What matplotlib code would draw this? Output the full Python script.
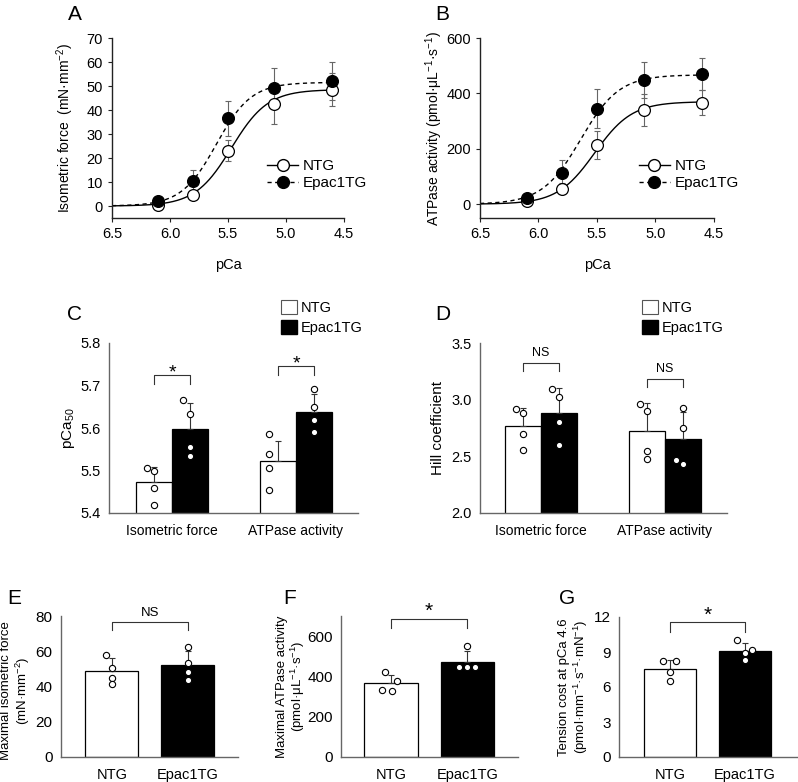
import numpy as np
import matplotlib
matplotlib.use("Agg")
import matplotlib.pyplot as plt
from matplotlib.lines import Line2D
from matplotlib.patches import Patch

plt.rcParams['font.family'] = ['Liberation Sans', 'DejaVu Sans']
plt.rcParams['mathtext.fontset'] = 'custom'
plt.rcParams['mathtext.rm'] = 'Liberation Sans'
plt.rcParams['mathtext.it'] = 'Liberation Sans:italic'
plt.rcParams['mathtext.default'] = 'regular'

# ---------------- data ----------------
pca = [6.1, 5.8, 5.5, 5.1, 4.6]
groups = ["NTG", "Epac1TG"]

# Panel A: isometric force
force_ntg = [0.5, 4.5, 23.0, 42.5, 48.5]
force_ntg_err = [0.8, 1.2, 4.3, 8.5, 7.0]
force_epac = [2.0, 10.5, 36.5, 49.0, 52.0]
force_epac_err = [1.0, 4.5, 7.2, 8.5, 8.0]
force_fit_ntg = (48.5, 5.47, 2.77)   # Fmax, pCa50, nH
force_fit_epac = (51.5, 5.60, 2.88)

# Panel B: ATPase activity
atp_ntg = [10, 55, 213, 340, 367]
atp_ntg_err = [6, 20, 50, 57, 45]
atp_epac = [22, 113, 345, 448, 470]
atp_epac_err = [8, 48, 70, 65, 57]
atp_fit_ntg = (370, 5.52, 2.72)
atp_fit_epac = (467, 5.64, 2.64)

# Panel C: pCa50
c_categories = ["Isometric force", "ATPase activity"]
pca50_ntg = [5.472, 5.522]
pca50_ntg_err = [0.036, 0.048]
pca50_epac = [5.597, 5.638]
pca50_epac_err = [0.063, 0.042]
pca50_pts_ntg = [[5.506, 5.498, 5.460, 5.420], [5.587, 5.538, 5.507, 5.453]]
pca50_pts_epac = [[5.665, 5.633, 5.555, 5.533], [5.692, 5.650, 5.620, 5.590]]
pca50_off_ntg = [[-7, 0, 0, 0], [-9, -9, -9, -9]]
pca50_off_epac = [[-7, 0, 0, 0], [0, 0, 0, 0]]
pca50_sig = ["*", "*"]

# Panel D: Hill coefficient
hill_ntg = [2.77, 2.72]
hill_ntg_err = [0.16, 0.25]
hill_epac = [2.88, 2.65]
hill_epac_err = [0.22, 0.24]
hill_pts_ntg = [[2.92, 2.88, 2.70, 2.56], [2.96, 2.90, 2.55, 2.48]]
hill_pts_epac = [[3.09, 3.02, 2.80, 2.60], [2.93, 2.75, 2.47, 2.43]]
hill_off_ntg = [[-7, 0, 0, 0], [-7, 0, 0, 0]]
hill_off_epac = [[-7, 0, 0, 0], [0, 0, -7, 0]]
hill_sig = ["NS", "NS"]

# Panel E: maximal isometric force
fmax_vals = [49.0, 52.0]
fmax_err = [7.0, 8.0]
fmax_pts = [[58.0, 50.5, 45.0, 41.5], [62.5, 53.5, 48.0, 43.5]]
fmax_off = [[-6, 0, 0, 0], [0, 0, 0, 0]]

# Panel F: maximal ATPase activity
amax_vals = [367, 470]
amax_err = [40, 55]
amax_pts = [[422, 378, 335, 328], [552, 448, 445, 445]]
amax_off = [[-6, 6, -9, 1], [0, -8, 0, 8]]

# Panel G: tension cost
tc_vals = [7.55, 9.1]
tc_err = [0.75, 0.7]
tc_pts = [[8.25, 8.25, 7.3, 6.5], [10.0, 9.2, 8.9, 8.3]]
tc_off = [[-7, 6, 0, 0], [-8, 7, 0, 0]]

# ---------------- figure ----------------
W, H = 798, 782
fig = plt.figure(figsize=(W / 100, H / 100), dpi=100)


def add_ax(l, r, t, b):
    return fig.add_axes([l / W, 1 - b / H, (r - l) / W, (b - t) / H])


def hill(x, p):
    fmax, p50, nh = p
    return fmax / (1 + 10 ** (nh * (np.asarray(x) - p50)))


def style_axes(ax, color='#333333'):
    for s in ['top', 'right']:
        ax.spines[s].set_visible(False)
    for s in ['left', 'bottom']:
        ax.spines[s].set_color(color)
        ax.spines[s].set_linewidth(1.0)
    ax.tick_params(colors='#222222', labelcolor='black', length=3, width=0.8,
                   labelsize=10.5)


def curve_panel(ax, yn, yne, ye, yee, fn, fe, ylim, yticks, ylabel, leg_xy):
    style_axes(ax, '#222222')
    xs = np.linspace(6.5, 4.6, 300)
    ax.plot(xs, hill(xs, fn), color='black', lw=1.0, ls='-', zorder=2)
    ax.plot(xs, hill(xs, fe), color='black', lw=1.0, ls=(0, (3, 2.5)), zorder=2)
    ax.errorbar(pca, yn, yerr=yne, fmt='none', ecolor='#666666', elinewidth=0.8,
                capsize=2.5, capthick=0.8, zorder=3)
    ax.errorbar(pca, ye, yerr=yee, fmt='none', ecolor='#666666', elinewidth=0.8,
                capsize=2.5, capthick=0.8, zorder=3)
    ax.plot(pca, yn, 'o', mfc='white', mec='black', mew=0.9, ms=8.5, ls='none', zorder=4)
    ax.plot(pca, ye, 'o', mfc='black', mec='black', mew=0.9, ms=8.5, ls='none', zorder=4)
    ax.set_xlim(6.5, 4.5)
    ax.set_xticks([6.5, 6.0, 5.5, 5.0, 4.5])
    ax.set_xticklabels(['6.5', '6.0', '5.5', '5.0', '4.5'])
    ax.set_ylim(*ylim)
    ax.set_yticks(yticks)
    ax.set_xlabel('pCa', fontsize=10.5)
    ax.xaxis.set_label_coords(0.5, -0.225)
    ax.set_ylabel(ylabel, fontsize=10)
    h1 = Line2D([], [], color='black', lw=1.0, marker='o', mfc='white', mec='black', ms=8.5)
    h2 = Line2D([], [], color='black', lw=1.0, ls=(0, (3, 2.5)), marker='o', mfc='black',
                mec='black', ms=8.5)
    ax.legend([h1, h2], groups, loc='center left', bbox_to_anchor=leg_xy, frameon=False,
              fontsize=11, handlelength=2.0, handletextpad=0.3, labelspacing=0.2,
              borderaxespad=0, borderpad=0)


# Panel A
axA = add_ax(112, 344, 38, 218)
curve_panel(axA, force_ntg, force_ntg_err, force_epac, force_epac_err,
            force_fit_ntg, force_fit_epac, (-5, 70), range(0, 71, 10),
            r'Isometric force  (mN·mm$^{-2}$)', (0.67, 0.24))
axA.yaxis.set_label_coords(-0.155, 0.5)

# Panel B
axB = add_ax(480, 714, 38, 218)
curve_panel(axB, atp_ntg, atp_ntg_err, atp_epac, atp_epac_err,
            atp_fit_ntg, atp_fit_epac, (-50, 600), [0, 200, 400, 600],
            r'ATPase activity (pmol·μL$^{-1}$·s$^{-1}$)', (0.68, 0.24))
axB.yaxis.set_label_coords(-0.15, 0.5)


def point_scatter(ax, centers, pts, offs, pxu):
    for c, vals, o in zip(centers, pts, offs):
        xs = [c + oo / pxu for oo in o]
        ax.plot(xs, vals, 'o', mfc='white', mec='black', mew=0.8, ms=4.5, ls='none',
                zorder=5, clip_on=False)


def bracket(ax, x1, x2, y, drop, text, tsize, tgap):
    ax.plot([x1, x1, x2, x2], [y - drop, y, y, y - drop], color='#333333', lw=0.8,
            clip_on=False)
    ax.text((x1 + x2) / 2, y + tgap, text, ha='center', va='bottom', fontsize=tsize,
            clip_on=False)


def grouped_panel(ax, vn, vne, ve, vee, pn, on, pe, oe, ylim, yticks, ylabel,
                  sig, sig_y, drop, tsize, tgap, xlim):
    style_axes(ax, '#666666')
    w = 0.29
    x = np.arange(len(c_categories))
    xn = x - w / 2
    xe = x + w / 2
    ax.bar(xn, vn, width=w, color='white', edgecolor='black', lw=0.9, zorder=2)
    ax.bar(xe, ve, width=w, color='black', edgecolor='black', lw=0.9, zorder=2)
    ax.errorbar(xn, vn, yerr=[np.zeros(len(vn)), vne], fmt='none', ecolor='#333333',
                elinewidth=0.8, capsize=2.5, capthick=0.8, zorder=3)
    ax.errorbar(xe, ve, yerr=[np.zeros(len(ve)), vee], fmt='none', ecolor='#333333',
                elinewidth=0.8, capsize=2.5, capthick=0.8, zorder=3)
    point_scatter(ax, xn, pn, on, 124)
    point_scatter(ax, xe, pe, oe, 124)
    ax.set_xlim(*xlim)
    ax.set_ylim(*ylim)
    ax.set_yticks(yticks)
    ax.set_xticks(x)
    ax.set_xticklabels(c_categories, fontsize=10)
    ax.tick_params(axis='x', length=0, pad=8)
    ax.tick_params(axis='y', length=0, pad=6)
    ax.set_ylabel(ylabel, fontsize=11)
    for i in range(len(x)):
        bracket(ax, xn[i], xe[i], sig_y[i], drop, sig[i], tsize, tgap)
    ax.legend([Patch(facecolor='white', edgecolor='#555555', lw=0.8),
               Patch(facecolor='black', edgecolor='black')], groups,
              loc='lower left', bbox_to_anchor=(0.69, 1.05), frameon=False,
              fontsize=10.5, handlelength=1.1, handleheight=1.1,
              handletextpad=0.3, labelspacing=0.3, borderaxespad=0, borderpad=0)


# Panel C
axC = add_ax(109, 358, 343, 513)
grouped_panel(axC, pca50_ntg, pca50_ntg_err, pca50_epac, pca50_epac_err,
              pca50_pts_ntg, pca50_off_ntg, pca50_pts_epac, pca50_off_epac,
              (5.4, 5.8), [5.4, 5.5, 5.6, 5.7, 5.8], r'pCa$_{50}$', pca50_sig,
              [5.7245, 5.7455], 0.02, 14, -0.014, (-0.508, 1.5))
axC.set_yticklabels(['5.4', '5.5', '5.6', '5.7', '5.8'])
axC.yaxis.set_label_coords(-0.13, 0.5)

# Panel D
axD = add_ax(480, 727, 343, 513)
grouped_panel(axD, hill_ntg, hill_ntg_err, hill_epac, hill_epac_err,
              hill_pts_ntg, hill_off_ntg, hill_pts_epac, hill_off_epac,
              (2.0, 3.5), [2.0, 2.5, 3.0, 3.5], 'Hill coefficient', hill_sig,
              [3.32, 3.18], 0.065, 9, 0.04, (-0.49, 1.5))
axD.set_yticklabels(['2.0', '2.5', '3.0', '3.5'])
axD.legend_.set_bbox_to_anchor((0.655, 1.05))
axD.yaxis.set_label_coords(-0.14, 0.5)


def two_bar_panel(ax, vals, err, pts, offs, ylim, yticks, ylabel, sig, sig_y, drop,
                  tsize, tgap, pxu, xlim):
    style_axes(ax, '#666666')
    x = np.arange(len(groups))
    w = 0.70
    ax.bar(x, vals, width=w, color=['white', 'black'], edgecolor='black', lw=0.9, zorder=2)
    ax.errorbar(x, vals, yerr=[np.zeros(len(vals)), err], fmt='none', ecolor='#333333',
                elinewidth=0.8, capsize=2.5, capthick=0.8, zorder=3)
    point_scatter(ax, x, pts, offs, pxu)
    ax.set_xlim(*xlim)
    ax.set_ylim(*ylim)
    ax.set_yticks(yticks)
    ax.set_xticks(x)
    ax.set_xticklabels(groups, fontsize=10.5)
    ax.tick_params(axis='x', length=0, pad=8)
    ax.tick_params(axis='y', length=0, pad=6, labelsize=11)
    ax.set_ylabel(ylabel, fontsize=9.5, linespacing=1.1)
    bracket(ax, x[0], x[1], sig_y, drop, sig, tsize, tgap)


# Panel E
axE = add_ax(61, 238, 616, 757)
two_bar_panel(axE, fmax_vals, fmax_err, fmax_pts, fmax_off, (0, 80), [0, 20, 40, 60, 80],
              'Maximal isometric force\n' + r'(mN·mm$^{-2}$)', 'NS', 76.8, 4.8, 9.5, 1.5, 76,
              (-0.67, 1.66))
axE.yaxis.set_label_coords(-0.165, 0.47)

# Panel F
axF = add_ax(341, 518, 616, 757)
two_bar_panel(axF, amax_vals, amax_err, amax_pts, amax_off, (0, 700), [0, 200, 400, 600],
              'Maximal ATPase activity\n' + r'(pmol·μL$^{-1}$·s$^{-1}$)', '*', 684, 44, 15,
              -8, 76.5, (-0.65, 1.66))
axF.yaxis.set_label_coords(-0.19, 0.5)

# Panel G
axG = add_ax(619, 797, 617, 757)
two_bar_panel(axG, tc_vals, tc_err, tc_pts, tc_off, (0, 12), [0, 3, 6, 9, 12],
              'Tension cost at pCa 4.6\n' + r'(pmol·mm$^{-1}$·s$^{-1}$·mN$^{-1}$)', '*',
              11.57, 0.87, 15, -0.2, 75.5, (-0.68, 1.69))
axG.yaxis.set_label_coords(-0.165, 0.5)

# Panel letters
for lab, (px, py) in {'A': (75, 15), 'B': (442, 15), 'C': (75, 315), 'D': (443, 315),
                      'E': (14, 599), 'F': (290, 599), 'G': (567, 599)}.items():
    fig.text(px / W, 1 - py / H, lab, fontsize=15, ha='center', va='center')

fig.savefig('out.png', dpi=100)
